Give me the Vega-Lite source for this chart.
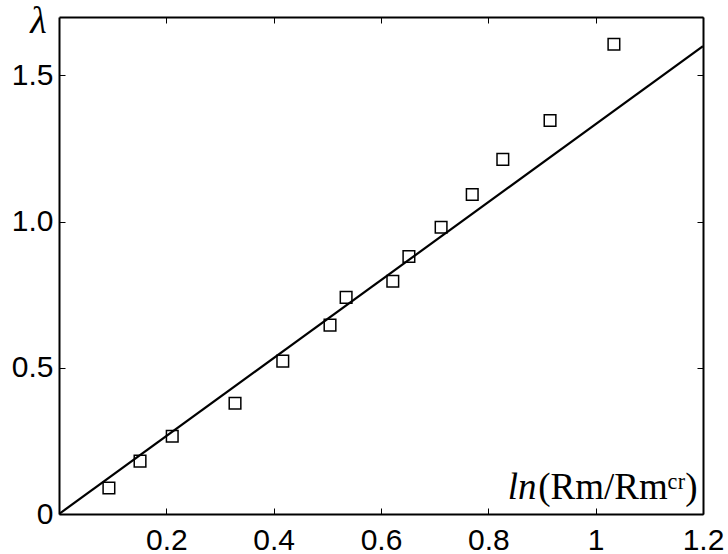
{
  "$schema": "https://vega.github.io/schema/vega-lite/v6.json",
  "width": 644,
  "height": 497,
  "autosize": {"type": "none"},
  "padding": {"left": 59, "top": 17, "right": 25, "bottom": 40},
  "background": "white",
  "config": {
    "view": {"stroke": null},
    "axis": {
      "domainColor": "black",
      "domainWidth": 2,
      "tickColor": "black",
      "tickWidth": 1,
      "tickSize": -6,
      "grid": false,
      "labelFont": "Liberation Sans",
      "labelFontSize": 30,
      "labelColor": "black",
      "labelFlush": false,
      "labelOverlap": false
    }
  },
  "datasets": {
    "fit": [{"x": 0, "y": 0}, {"x": 1.2, "y": 1.6}],
    "points": [
      {"x": 0.093, "y": 0.089},
      {"x": 0.151, "y": 0.181},
      {"x": 0.211, "y": 0.266},
      {"x": 0.328, "y": 0.379},
      {"x": 0.417, "y": 0.523},
      {"x": 0.505, "y": 0.646},
      {"x": 0.535, "y": 0.741},
      {"x": 0.622, "y": 0.796},
      {"x": 0.652, "y": 0.881},
      {"x": 0.712, "y": 0.981},
      {"x": 0.770, "y": 1.093},
      {"x": 0.827, "y": 1.213},
      {"x": 0.915, "y": 1.346},
      {"x": 1.034, "y": 1.607}
    ]
  },
  "layer": [
    {
      "data": {"name": "fit"},
      "mark": {"type": "line", "color": "black", "strokeWidth": 2.2, "clip": true},
      "encoding": {
        "x": {
          "field": "x", "type": "quantitative",
          "scale": {"domain": [0, 1.2], "nice": false, "zero": false},
          "axis": {
            "orient": "bottom",
            "values": [0.2, 0.4, 0.6, 0.8, 1, 1.2],
            "labelExpr": "format(datum.value, '~g')",
            "labelPadding": 17,
            "title": "ln",
            "titleFont": "Liberation Serif",
            "titleFontStyle": "italic",
            "titleFontWeight": "normal",
            "titleFontSize": 37,
            "titleColor": "black",
            "titleAlign": "right",
            "titleBaseline": "alphabetic",
            "titleAnchor": null,
            "titleX": 477,
            "titleY": -16
          }
        },
        "y": {
          "field": "y", "type": "quantitative",
          "scale": {"domain": [0, 1.7], "nice": false, "zero": false},
          "axis": {
            "orient": "left",
            "values": [0, 0.5, 1, 1.5],
            "labelExpr": "datum.value == 0 ? '0' : format(datum.value, '.1f')",
            "labelPadding": 12,
            "title": "λ",
            "titleFont": "Liberation Serif",
            "titleFontStyle": "italic",
            "titleFontWeight": "normal",
            "titleFontSize": 38,
            "titleColor": "black",
            "titleAngle": 0,
            "titleAlign": "center",
            "titleBaseline": "alphabetic",
            "titleAnchor": null,
            "titleX": -21,
            "titleY": 15
          }
        }
      }
    },
    {
      "data": {"name": "points"},
      "mark": {"type": "point", "shape": "square", "filled": false, "color": "black", "strokeWidth": 1.5, "size": 135, "opacity": 1},
      "encoding": {
        "x": {
          "field": "x", "type": "quantitative",
          "axis": {
            "orient": "top",
            "values": [0.2, 0.4, 0.6, 0.8, 1, 1.2],
            "labels": false,
            "title": "(Rm/Rmᶜʳ)",
            "titleFont": "Liberation Serif",
            "titleFontWeight": "normal",
            "titleFontSize": 37,
            "titleColor": "black",
            "titleAlign": "right",
            "titleBaseline": "alphabetic",
            "titleAnchor": null,
            "titleX": 638,
            "titleY": 481
          }
        },
        "y": {
          "field": "y", "type": "quantitative",
          "axis": {
            "orient": "right",
            "values": [0, 0.5, 1, 1.5],
            "labels": false,
            "title": null
          }
        }
      }
    }
  ],
  "resolve": {"axis": {"x": "independent", "y": "independent"}}
}
